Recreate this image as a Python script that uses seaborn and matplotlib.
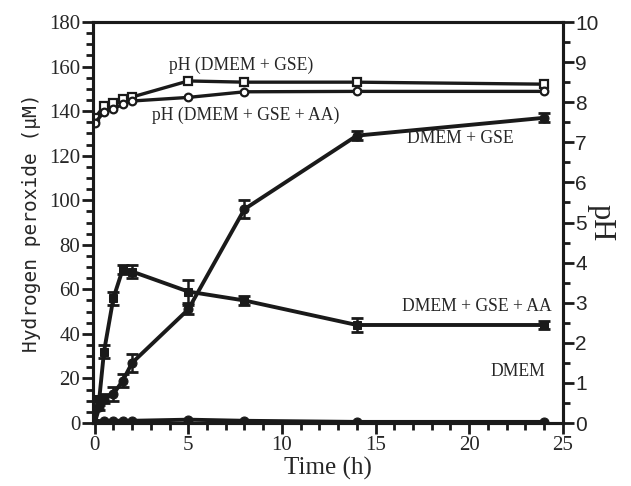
import numpy as np
import pandas as pd
import matplotlib
matplotlib.use("Agg")
import matplotlib.pyplot as plt
import seaborn as sns
from matplotlib.ticker import MultipleLocator

sns.set_theme(style="white")
plt.rcParams['font.family'] = ['Liberation Serif', 'DejaVu Serif']

# Data
t_gse = [0, 0.25, 0.5, 1, 1.5, 2, 5, 8, 14, 24]
h2o2_gse = [0, 7, 11, 13, 19, 27, 51, 96, 129, 137]
err_gse = [0, 1, 2, 3, 3, 4, 2, 4, 2, 2]

t_gse_aa = [0, 0.25, 0.5, 1, 1.5, 2, 5, 8, 14, 24]
h2o2_gse_aa = [0, 11, 32, 56, 69, 68, 59, 55, 44, 44]
err_gse_aa = [0, 1, 3, 3, 2, 3, 5, 2, 3, 2]

t_dmem = [0, 0.5, 1, 1.5, 2, 5, 8, 14, 24]
h2o2_dmem = [0, 1, 1, 1, 1, 1.5, 1, 0.5, 0.5]

t_ph = [0, 0.5, 1, 1.5, 2, 5, 8, 14, 24]
ph_gse = [7.6, 7.9, 7.98, 8.08, 8.13, 8.53, 8.5, 8.5, 8.45]
ph_gse_aa = [7.48, 7.75, 7.83, 7.95, 8.03, 8.12, 8.26, 8.27, 8.27]

fig = plt.figure(figsize=(6.31, 4.86), dpi=100)
ax = fig.add_axes([0.147, 0.1296, 0.745, 0.8251])
ax2 = ax.twinx()

lw = 2.8
col = '#1a1a1a'

# H2O2 series
sns.lineplot(x=t_gse, y=h2o2_gse, ax=ax, color=col, lw=lw, marker='o', ms=6.5,
             mec=col, mfc=col, legend=False)
ax.errorbar(t_gse, h2o2_gse, yerr=err_gse, fmt='none', ecolor=col, elinewidth=1.8, capsize=4, capthick=2)
sns.lineplot(x=t_gse_aa, y=h2o2_gse_aa, ax=ax, color=col, lw=lw, marker='s', ms=6,
             mec=col, mfc=col, legend=False)
ax.errorbar(t_gse_aa, h2o2_gse_aa, yerr=err_gse_aa, fmt='none', ecolor=col, elinewidth=1.8, capsize=4, capthick=2)
sns.lineplot(x=t_dmem, y=h2o2_dmem, ax=ax, color=col, lw=lw, marker='o', ms=6.5,
             mec=col, mfc=col, legend=False)

# pH series
sns.lineplot(x=t_ph, y=ph_gse, ax=ax2, color=col, lw=2.4, marker='s', ms=5.5,
             mec=col, mfc='white', mew=1.6, legend=False)
sns.lineplot(x=t_ph, y=ph_gse_aa, ax=ax2, color=col, lw=2.4, marker='o', ms=5.5,
             mec=col, mfc='white', mew=1.6, legend=False)

ax.set_xlim(-0.1, 25)
ax.set_ylim(0, 180)
ax2.set_ylim(0, 10)

for a in (ax, ax2):
    for s in a.spines.values():
        s.set_color(col)
        s.set_linewidth(2.2)

ax.xaxis.set_major_locator(MultipleLocator(5))
ax.xaxis.set_minor_locator(MultipleLocator(1))
ax.yaxis.set_major_locator(MultipleLocator(20))
ax.yaxis.set_minor_locator(MultipleLocator(5))
ax2.yaxis.set_major_locator(MultipleLocator(1))
ax2.yaxis.set_minor_locator(MultipleLocator(0.5))

ax.tick_params(axis='both', which='major', direction='out', length=8, width=2, color=col,
               labelsize=15, pad=1, bottom=True, left=True, top=False, right=False)
ax.tick_params(axis='both', which='minor', direction='out', length=5, width=2, color=col,
               bottom=True, left=True, top=False, right=False)
ax2.tick_params(axis='y', which='major', direction='out', length=8, width=2, color=col,
                labelsize=15, pad=1, right=True)
ax2.tick_params(axis='y', which='minor', direction='out', length=5, width=2, color=col, right=True)
for lab in ax2.get_yticklabels():
    lab.set_family(['Liberation Sans', 'DejaVu Sans'])

ax.set_xlabel('Time (h)', fontsize=18, labelpad=2)
ax.set_ylabel('Hydrogen peroxide (μM)', fontsize=14, labelpad=6,
              family=['DejaVu Sans Mono', 'DejaVu Sans'])
ax2.set_ylabel('pH', fontsize=22, rotation=270, labelpad=12)

ax.grid(False)
ax2.grid(False)

fs = 12.7
ax.text(7.8, 160.7, 'pH (DMEM + GSE)', fontsize=fs, ha='center', va='center')
ax.text(8.07, 138.2, 'pH (DMEM + GSE + AA)', fontsize=fs, ha='center', va='center')
ax.text(19.5, 127.9, 'DMEM + GSE', fontsize=fs, ha='center', va='center')
ax.text(20.4, 52.5, 'DMEM + GSE + AA', fontsize=fs, ha='center', va='center')
ax.text(22.6, 22.9, 'DMEM', fontsize=fs, ha='center', va='center')

fig.savefig('out.png', dpi=100)
